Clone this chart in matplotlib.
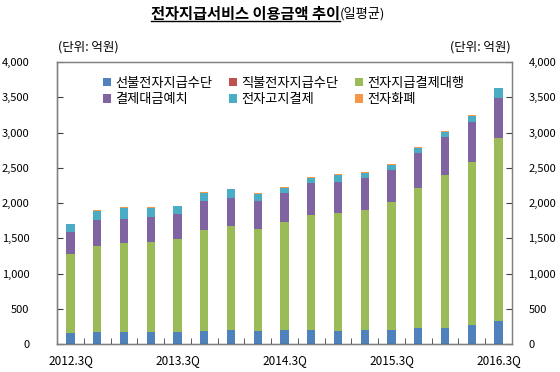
import numpy as np
import matplotlib
matplotlib.use("Agg")
import matplotlib.pyplot as plt
from matplotlib.lines import Line2D
from matplotlib.ticker import FuncFormatter, MultipleLocator

plt.rcParams['font.family'] = ['Noto Sans CJK KR', 'DejaVu Sans']

# 분기
quarters = ['2012.3Q', '2012.4Q', '2013.1Q', '2013.2Q', '2013.3Q', '2013.4Q',
            '2014.1Q', '2014.2Q', '2014.3Q', '2014.4Q', '2015.1Q', '2015.2Q',
            '2015.3Q', '2015.4Q', '2016.1Q', '2016.2Q', '2016.3Q']
tick_labels = ['2012.3Q', '2013.3Q', '2014.3Q', '2015.3Q', '2016.3Q']

# 일평균 이용금액 (억원), 그림에서 읽은 값
prepaid = [161, 175, 175, 175, 175, 190, 199, 190, 199, 199, 185, 199, 199, 223, 232, 275, 327]
debit = [1, 1, 1, 1, 1, 1, 1, 1, 1, 1, 1, 1, 1, 1, 1, 1, 1]
pg = [1120, 1220, 1253, 1277, 1315, 1423, 1481, 1447, 1528, 1633, 1675, 1709, 1818, 1993, 2170, 2302, 2592]
escrow = [304, 370, 342, 351, 361, 414, 389, 390, 413, 446, 432, 446, 451, 499, 531, 566, 570]
ebpp = [114, 119, 162, 129, 104, 118, 128, 95, 76, 81, 100, 76, 71, 62, 76, 85, 138]
emoney = [10, 15, 5, 5, 5, 9, 9, 14, 14, 14, 14, 10, 10, 14, 14, 14, 10]

names = ['선불전자지급수단', '직불전자지급수단', '전자지급결제대행',
         '결제대금예치', '전자고지결제', '전자화폐']
colors = ['#4F81BD', '#C0504D', '#9BBB59', '#8064A2', '#4BACC6', '#F79646']
series = [prepaid, debit, pg, escrow, ebpp, emoney]

fig = plt.figure(figsize=(5.6, 3.72), dpi=100)
ax = fig.add_axes([0.102, 0.075, 0.812, 0.758])

x = np.arange(len(quarters))
bottom = np.zeros(len(quarters))
bars = {}
for name, c, vals in zip(names, colors, series):
    bars[name] = ax.bar(x, vals, 0.31, bottom=bottom, color=c, label=name, linewidth=0)
    bottom += np.array(vals)

ax.set_xlim(-0.5, len(quarters) - 0.5)
ax.set_ylim(0, 4000)
ax.yaxis.set_major_locator(MultipleLocator(500))
fmt = FuncFormatter(lambda v, p: f'{int(v):,}')
ax.yaxis.set_major_formatter(fmt)
ax.tick_params(axis='y', direction='in', length=4, labelsize=8, pad=20, color='#404040')

ax.set_xticks([quarters.index(t) for t in tick_labels])
ax.set_xticklabels(tick_labels, fontsize=8.5)
ax.set_xticks(np.arange(-0.5, len(quarters), 1), minor=True)
ax.tick_params(axis='x', which='major', length=0, pad=7)
ax.tick_params(axis='x', which='minor', direction='in', length=4, color='#404040')

ax2 = ax.twinx()
ax2.set_ylim(0, 4000)
ax2.yaxis.set_major_locator(MultipleLocator(500))
ax2.yaxis.set_major_formatter(fmt)
ax2.tick_params(axis='y', direction='in', length=4, labelsize=8, pad=12, color='#404040')
for a in (ax, ax2):
    for s in a.spines.values():
        s.set_color('#808080')
        s.set_linewidth(0.9)
ax.spines['left'].set_color('#303030')
ax.spines['bottom'].set_color('#303030')

order = [0, 3, 1, 4, 2, 5]
handles = [bars[names[i]] for i in order]
ax.legend(handles, [names[i] for i in order], ncol=3, loc='upper left',
          bbox_to_anchor=(0.075, 0.99), frameon=False, fontsize=9.5,
          handlelength=0.6, handleheight=0.6, handletextpad=0.3,
          columnspacing=1.3, labelspacing=0.25)

fig.text(0.103, 0.873, '(단위: 억원)', fontsize=9, ha='left', va='center')
fig.text(0.912, 0.873, '(단위: 억원)', fontsize=9, ha='right', va='center')

t1 = fig.text(0.607, 0.962, '전자지급서비스 이용금액 추이', fontsize=11,
              fontweight='bold', ha='right', va='center')
fig.text(0.607, 0.962, '(일평균)', fontsize=9.5, ha='left', va='center')

fig.canvas.draw()
bb = t1.get_window_extent().transformed(fig.transFigure.inverted())
fig.add_artist(Line2D([bb.x0, bb.x1], [bb.y0 + 0.002, bb.y0 + 0.002],
                      transform=fig.transFigure, color='black', linewidth=1))

fig.savefig('out.png', dpi=100)
